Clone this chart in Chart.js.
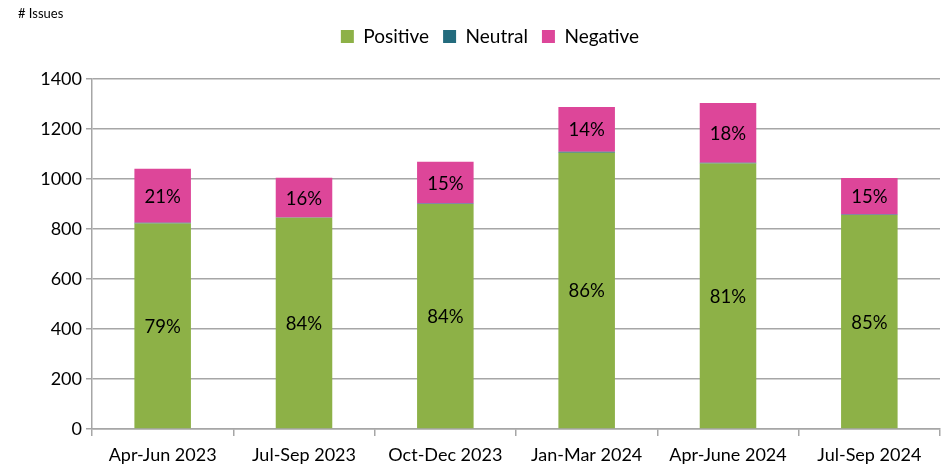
<!DOCTYPE html>
<html>
<head>
<meta charset="utf-8">
<script src="https://cdn.jsdelivr.net/npm/chart.js@4/dist/chart.umd.min.js"></script>
<style>
html,body{margin:0;padding:0;background:#fff;}
#wrap{width:947px;height:472px;position:relative;}
</style>
</head>
<body>
<div id="wrap"><canvas id="c" width="947" height="472"></canvas></div>
<script>
const categories = ["Apr-Jun 2023","Jul-Sep 2023","Oct-Dec 2023","Jan-Mar 2024","Apr-June 2024","Jul-Sep 2024"];
const positive = [822, 845, 900, 1105, 1062, 856];
const neutral  = [3, 1, 2, 4, 3, 2];
const negative = [216, 159, 167, 179, 239, 146];
const positiveLabels = ["79%","84%","84%","86%","81%","85%"];
const negativeLabels = ["21%","16%","15%","14%","18%","15%"];
const yTicks = [0,200,400,600,800,1000,1200,1400];

const FONT = "Lato, 'Liberation Sans', sans-serif";

const labelPlugin = {
  id: 'segLabels',
  afterDatasetsDraw(chart) {
    const ctx = chart.ctx;
    ctx.save();
    ctx.font = "18.5px " + FONT;
    ctx.fillStyle = "#000";
    ctx.textAlign = "center";
    ctx.textBaseline = "middle";
    const map = {0: positiveLabels, 2: negativeLabels};
    [0,2].forEach(di => {
      const meta = chart.getDatasetMeta(di);
      meta.data.forEach((el, i) => {
        const p = el.getProps(['x','y','base'], true);
        ctx.fillText(map[di][i], p.x, (p.y + p.base) / 2 + 1);
      });
    });
    ctx.restore();
  }
};

const titlePlugin = {
  id: 'issuesTitle',
  afterDraw(chart) {
    const ctx = chart.ctx;
    ctx.save();
    ctx.font = "13px " + FONT;
    ctx.fillStyle = "#000";
    ctx.textAlign = "left";
    ctx.textBaseline = "middle";
    ctx.fillText("# Issues", 18, 14);
    ctx.restore();
  }
};

const legendSpace = {
  id: 'legendSpace',
  beforeInit(chart) {
    const orig = chart.legend.fit;
    chart.legend.fit = function() {
      orig.call(this);
      this.height += 23;
    };
  }
};

new Chart(document.getElementById('c'), {
  type: 'bar',
  data: {
    labels: categories,
    datasets: [
      {label: 'Positive', data: positive, backgroundColor: '#8db147'},
      {label: 'Neutral', data: neutral, backgroundColor: '#236b7d'},
      {label: 'Negative', data: negative, backgroundColor: '#dd4699'}
    ]
  },
  options: {
    responsive: false,
    animation: false,
    layout: {padding: {left: 40, right: 7, top: 13, bottom: 0}},
    plugins: {
      legend: {
        position: 'top',
        labels: {
          font: {family: FONT, size: 19},
          color: '#000',
          boxWidth: 13, boxHeight: 13,
          padding: 14
        }
      },
      tooltip: {enabled: false}
    },
    datasets: {bar: {barPercentage: 0.4, categoryPercentage: 1.0, borderWidth: 0}},
    scales: {
      x: {
        stacked: true,
        grid: {offset: true, drawOnChartArea: false, drawTicks: true, tickLength: 7, color: '#a6a6a6', lineWidth: 1.5},
        border: {color: '#a6a6a6', width: 1.5},
        ticks: {font: {family: FONT, size: 18}, color: '#000', padding: 8, maxRotation: 0},
        afterFit(s) { s.height = 43; }
      },
      y: {
        stacked: true,
        min: 0, max: 1400,
        afterBuildTicks(s) { s.ticks = yTicks.map(v => ({value: v})); },
        grid: {color: '#a6a6a6', lineWidth: 1.5, tickLength: 6},
        border: {color: '#a6a6a6', width: 1.5},
        ticks: {font: {family: FONT, size: 18}, color: '#000', padding: 4, callback: v => String(v)},
        afterFit(s) { s.width = 52; }
      }
    }
  },
  plugins: [labelPlugin, titlePlugin, legendSpace]
});
</script>
</body>
</html>
